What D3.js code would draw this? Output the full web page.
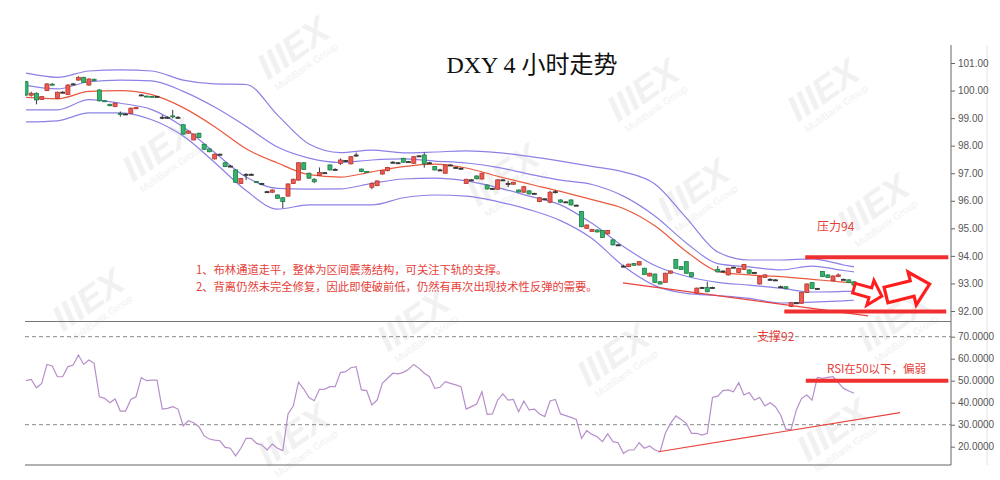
<!DOCTYPE html>
<html><head><meta charset="utf-8">
<script src="https://cdn.jsdelivr.net/npm/d3@7"></script>
<style>body{margin:0;background:#fff;} svg{display:block;}</style>
</head><body><svg id="c" width="1000" height="480"></svg>
<script>
// ---------------- data ----------------
const title = "DXY 4 小时走势";
const priceTicks = [92,93,94,95,96,97,98,99,100,101];
const rsiTicks = [20,30,40,50,60,70];
const rsiGuides = [70,30];

const open = [100.32,99.83,99.90,99.68,100.00,100.23,99.72,99.94,99.86,100.24,
100.38,100.48,100.20,100.41,100.02,99.63,99.50,99.42,99.17,99.15,
99.17,99.34,99.84,99.80,99.79,99.79,99.03,99.03,99.08,99.03,
98.76,98.45,98.21,98.45,98.05,97.88,97.52,97.69,97.38,97.26,
97.12,96.63,96.96,96.96,96.70,96.63,96.33,96.31,96.21,96.11,
96.17,96.63,96.75,97.38,97.00,96.78,96.92,97.02,97.30,97.14,
97.36,97.46,97.34,97.66,97.15,97.06,96.49,96.55,96.97,97.09,
97.40,97.38,97.54,97.42,97.36,97.63,97.66,97.38,97.24,97.12,
97.00,97.30,97.21,97.18,96.63,96.76,96.90,96.79,96.57,96.45,
96.42,96.76,96.63,96.60,96.39,96.31,96.36,96.27,95.97,96.07,
95.95,96.33,96.03,95.96,96.03,95.84,95.61,95.00,94.89,94.94,
94.92,94.80,94.58,94.40,93.63,93.61,93.72,93.67,93.55,93.27,
93.34,93.06,93.04,93.37,93.87,93.61,93.79,93.39,92.64,92.85,
92.85,92.85,93.51,93.45,93.31,93.59,93.40,93.51,93.49,93.40,
92.98,93.22,93.15,93.13,92.88,92.88,92.16,92.30,92.28,92.67,
93.03,92.82,93.43,93.31,93.10,93.25,93.15,93.13,93.06];
const high = [100.35,99.96,99.93,99.80,100.27,100.27,99.96,99.98,100.23,100.28,
100.52,100.50,100.44,100.43,100.05,99.64,99.52,99.56,99.24,99.18,
99.38,99.41,99.87,99.81,99.80,99.80,99.11,99.06,99.30,99.07,
98.78,98.55,98.44,98.47,98.07,97.90,97.71,97.71,97.40,97.30,
97.14,96.83,97.00,96.99,96.71,96.65,96.36,96.41,96.23,96.13,
96.63,96.80,97.40,97.40,97.02,96.82,97.21,97.04,97.32,97.18,
97.54,97.48,97.62,97.75,97.17,97.07,96.67,96.74,97.11,97.23,
97.44,97.40,97.56,97.44,97.62,97.65,97.75,97.41,97.26,97.16,
97.32,97.32,97.23,97.20,96.80,96.78,96.92,97.02,96.59,96.47,
96.78,96.78,96.73,96.69,96.41,96.53,96.38,96.29,96.13,96.09,
96.36,96.39,96.05,95.98,96.05,95.86,95.63,95.14,94.98,94.96,
94.94,94.94,94.60,94.43,93.68,93.72,93.74,93.81,93.57,93.39,
93.36,93.08,93.39,93.47,93.89,93.63,93.81,93.41,92.85,92.88,
93.06,92.88,93.63,93.47,93.57,93.61,93.57,93.71,93.51,93.42,
93.27,93.33,93.19,93.15,92.92,92.90,92.32,92.32,92.69,93.00,
93.05,92.84,93.45,93.33,93.29,93.36,93.17,93.15,93.08];
const low = [99.80,99.78,99.50,99.66,99.98,100.19,99.70,99.91,99.84,100.21,
100.36,100.28,100.18,100.34,99.60,99.60,99.43,99.40,99.05,99.12,
99.15,99.32,99.81,99.76,99.77,99.78,98.96,98.98,98.99,98.99,
98.40,98.43,98.19,98.28,97.85,97.76,97.50,97.67,97.22,97.22,
96.65,96.61,96.75,96.93,96.66,96.61,96.30,96.29,96.07,95.73,
96.15,96.61,96.73,97.12,96.80,96.64,96.90,97.00,97.10,97.10,
97.30,97.44,97.32,97.60,97.04,97.03,96.42,96.53,96.95,97.07,
97.36,97.36,97.38,97.40,97.34,97.61,97.20,97.35,97.10,97.08,
96.98,97.28,97.19,97.16,96.61,96.74,96.78,96.77,96.41,96.43,
96.40,96.74,96.49,96.58,96.30,96.29,96.23,96.25,95.95,96.05,
95.91,96.27,95.93,95.94,95.83,95.82,95.04,94.98,94.87,94.85,
94.65,94.78,94.38,94.37,93.58,93.59,93.64,93.65,93.31,93.25,
93.02,92.96,93.02,93.35,93.53,93.49,93.35,93.23,92.62,92.82,
92.68,92.82,93.40,93.43,93.29,93.57,93.38,93.49,93.35,93.38,
92.96,93.20,93.11,93.11,92.84,92.79,92.14,92.28,92.26,92.65,
92.80,92.80,93.23,93.20,93.08,93.23,93.13,93.02,92.92];
const close = [99.84,99.90,99.66,99.78,100.24,100.22,99.94,99.94,100.20,100.24,
100.48,100.30,100.42,100.36,99.63,99.61,99.45,99.54,99.16,99.15,
99.36,99.39,99.84,99.77,99.78,99.79,99.03,99.03,99.07,99.03,
98.42,98.53,98.42,98.30,97.87,97.78,97.69,97.69,97.24,97.26,
96.67,96.81,96.96,96.96,96.68,96.63,96.33,96.39,96.09,95.97,
96.61,96.78,97.38,97.14,96.82,96.69,97.03,97.02,97.12,97.14,
97.48,97.46,97.60,97.66,97.06,97.05,96.63,96.72,97.09,97.21,
97.40,97.38,97.40,97.42,97.60,97.63,97.34,97.38,97.12,97.12,
97.30,97.30,97.21,97.18,96.78,96.76,96.80,97.00,96.43,96.45,
96.76,96.76,96.63,96.67,96.32,96.51,96.25,96.27,96.11,96.07,
96.31,96.33,95.95,95.96,95.85,95.84,95.06,95.12,94.96,94.87,
94.67,94.92,94.40,94.40,93.63,93.70,93.66,93.79,93.33,93.37,
93.04,92.98,93.37,93.45,93.55,93.51,93.37,93.25,92.83,92.85,
92.70,92.85,93.42,93.45,93.55,93.59,93.55,93.69,93.37,93.40,
93.25,93.31,93.15,93.13,92.88,92.81,92.30,92.30,92.67,92.98,
92.82,92.82,93.25,93.22,93.27,93.31,93.15,93.04,92.94];

// channel lines, read at these candle indices
const bandIdx = [0,6,12,18,24,30,36,42,48,54,60,66,72,78,84,90,96,102,108,114,120,126,132,138,144,150,156,158];
const bandUpper2 = [100.63,100.48,100.71,100.75,100.71,100.38,100.24,100.22,99.11,98.06,97.75,97.84,97.74,97.77,97.81,97.75,97.61,97.44,97.25,97.05,96.61,95.38,94.14,93.85,93.85,93.89,93.67,93.60];
const bandUpper1 = [100.19,100.06,100.32,100.38,100.35,99.97,99.40,98.70,97.95,97.55,97.39,97.48,97.52,97.44,97.37,97.21,96.97,96.75,96.59,96.17,95.45,94.47,93.72,93.60,93.49,93.63,93.47,93.42];
const bandMid    = [99.75,99.70,99.97,100.00,99.85,99.38,98.69,97.89,97.37,96.95,96.86,97.05,97.24,97.33,97.19,96.89,96.61,96.34,96.04,95.72,95.09,94.16,93.44,93.31,93.25,93.15,93.05,93.02];
const bandLower1 = [99.30,99.30,99.67,99.54,99.31,98.68,97.75,96.86,96.45,96.42,96.43,96.63,96.79,96.82,96.72,96.48,96.17,95.85,95.18,94.34,93.65,93.26,93.04,92.94,92.83,92.69,92.71,92.72];
const bandLower2 = [98.86,98.90,99.19,99.19,98.94,98.35,97.39,96.37,95.70,95.85,95.85,95.85,96.11,96.21,96.17,95.97,95.68,95.28,94.63,93.63,92.92,92.64,92.56,92.46,92.29,92.32,92.37,92.39];

const rsi = [50.0,50.6,46.8,48.8,57.4,56.7,51.8,51.8,56.4,57.1,61.7,57.4,59.4,57.9,42.7,42.0,40.0,41.7,36.2,36.2,
41.5,42.7,51.4,50.0,50.3,50.3,37.1,37.4,38.2,37.1,29.5,31.8,30.9,29.1,24.9,23.5,23.0,22.7,19.7,19.3,
15.8,19.3,23.8,23.8,21.5,20.8,18.5,21.2,19.3,18.2,34.9,38.5,49.3,46.2,42.3,40.9,46.1,46.2,47.3,47.3,
53.7,54.1,55.9,56.4,45.8,45.5,39.0,41.2,48.8,51.1,53.4,53.1,53.8,55.2,57.4,55.6,53.4,51.8,46.5,47.0,
49.6,48.8,48.1,47.3,37.1,38.2,39.4,45.0,34.7,34.9,41.2,44.0,41.2,41.5,35.9,40.8,36.7,37.1,34.9,33.7,
40.8,41.5,34.9,34.1,33.3,32.4,23.8,27.3,25.6,24.5,22.3,25.8,22.3,21.8,17.0,18.5,18.5,21.8,19.3,20.3,
18.5,17.7,26.1,30.6,34.0,32.4,30.6,26.1,26.1,25.3,26.1,42.4,43.0,45.5,45.8,45.0,49.1,43.5,44.6,41.2,
42.4,38.5,40.0,38.2,34.4,27.9,27.9,36.7,42.0,43.5,41.2,51.5,51.1,51.5,51.8,49.1,46.5,45.3,44.3];

// annotation levels
const resistance = 94, support = 92, rsiLevel = 50;
const priceTrend = [[113.9, 93.02],[160.7, 91.82]];
const rsiTrend = [[120.7, 17.7],[166.8, 35.5]];
const notes = ["1、布林通道走平，整体为区间震荡结构，可关注下轨的支撑。",
               "2、背离仍然未完全修复，因此即使破前低，仍然有再次出现技术性反弹的需要。"];

// ---------------- drawing ----------------
(function(){
const svg = d3.select('#c');
const plotL = 25, plotR = 951, topY = 45, divY = 321.5, bottomY = 465;
const x = d3.scaleLinear().domain([0,158]).range([26,854]);
const yP = d3.scaleLinear().domain([92,101]).range([311,63]);
const yR = d3.scaleLinear().domain([20,70]).range([446.7,336.7]);

const defs = svg.append('defs');
defs.append('clipPath').attr('id','cm').append('rect').attr('x',plotL).attr('y',topY).attr('width',plotR-plotL).attr('height',divY-topY);
defs.append('clipPath').attr('id','cr').append('rect').attr('x',plotL).attr('y',divY).attr('width',plotR-plotL).attr('height',bottomY-divY);

// watermarks
const wm = [[300,58],[650,100],[830,100],[165,160],[510,185],[880,215],[700,200],[95,310],[420,330],[620,365],[300,445],[840,440],[900,330]];
const wg = svg.append('g').attr('fill','#f1f1f1');
wm.forEach(([cx,cy])=>{
  const g = wg.append('g').attr('transform',`translate(${cx},${cy}) rotate(-35)`);
  g.append('text').attr('text-anchor','middle').attr('font-family','Liberation Sans, Arial').attr('font-weight','bold').attr('font-style','italic').attr('font-size',36).text('IIIEX');
  g.append('text').attr('text-anchor','middle').attr('y',14).attr('font-family','Liberation Sans, Arial').attr('font-size',10).text('MultiBank Group');
});

// frame lines
svg.append('line').attr('x1',plotR).attr('x2',plotR).attr('y1',topY).attr('y2',bottomY).attr('stroke','#666');
svg.append('line').attr('x1',987).attr('x2',987).attr('y1',topY).attr('y2',bottomY).attr('stroke','#e2e2e2');
svg.append('line').attr('x1',plotL).attr('x2',plotR).attr('y1',divY).attr('y2',divY).attr('stroke','#777').attr('stroke-width',1.2);
svg.append('line').attr('x1',plotL).attr('x2',plotR).attr('y1',bottomY).attr('y2',bottomY).attr('stroke','#666').attr('stroke-width',1.2);

// RSI guide dashed lines
svg.append('g').selectAll('line').data(rsiGuides).join('line')
  .attr('x1',plotL).attr('x2',plotR).attr('y1',d=>yR(d)).attr('y2',d=>yR(d))
  .attr('stroke','#888').attr('stroke-dasharray','4,3');

// axes
const fmtP = d3.format('.2f'), fmtR = d3.format('.4f');
const axP = svg.append('g').attr('transform',`translate(${plotR},0)`)
  .call(d3.axisRight(yP).tickValues(priceTicks).tickFormat(fmtP).tickSize(4).tickPadding(3));
const axR = svg.append('g').attr('transform',`translate(${plotR},0)`)
  .call(d3.axisRight(yR).tickValues(rsiTicks).tickFormat(fmtR).tickSize(4).tickPadding(3));
[axP,axR].forEach(a=>{
  a.select('.domain').remove();
  a.selectAll('line').attr('stroke','#666');
  a.selectAll('text').attr('fill','#555').attr('font-family','Liberation Sans, Arial').attr('font-size',10);
});

// main panel
const main = svg.append('g').attr('clip-path','url(#cm)');
const bandLine = d3.line().x(d=>x(d[0])).y(d=>yP(d[1])).curve(d3.curveMonotoneX);
const bands = [[bandUpper2,'#8c82e6'],[bandUpper1,'#8c82e6'],[bandLower1,'#8c82e6'],[bandLower2,'#8c82e6'],[bandMid,'#ea5a3e']];
bands.forEach(([arr,c])=>{
  main.append('path').datum(bandIdx.map((i,k)=>[i,arr[k]])).attr('d',bandLine)
    .attr('fill','none').attr('stroke',c).attr('stroke-width',1.2);
});

const candles = open.map((o,i)=>({i,o,h:high[i],l:low[i],c:close[i]}));
const cg = main.append('g');
const bw = 4;
const col = d => d.c>d.o ? ['#ec5a50','#b8372e'] : d.c<d.o ? ['#33b36b','#1d7d45'] : ['#333','#333'];
cg.selectAll('line').data(candles).join('line')
  .attr('x1',d=>x(d.i)).attr('x2',d=>x(d.i))
  .attr('y1',d=>yP(d.h)).attr('y2',d=>yP(d.l))
  .attr('stroke','#3a3a3a').attr('stroke-width',1);
cg.selectAll('rect').data(candles).join('rect')
  .attr('x',d=>x(d.i)-bw/2).attr('width',bw)
  .attr('y',d=>yP(Math.max(d.o,d.c)))
  .attr('height',d=>Math.max(1,Math.abs(yP(d.o)-yP(d.c))))
  .attr('fill',d=>col(d)[0]).attr('stroke',d=>col(d)[1]).attr('stroke-width',0.8);

// price trend line & levels
const tl = d3.line().x(d=>x(d[0])).y(d=>yP(d[1]));
main.append('path').datum(priceTrend).attr('d',tl).attr('stroke','#e8423c').attr('stroke-width',1.2).attr('fill','none');
svg.append('line').attr('x1',x(148.7)).attr('x2',x(176)).attr('y1',yP(resistance)+1.3).attr('y2',yP(resistance)+1.3)
  .attr('stroke','#f03030').attr('stroke-width',4);
svg.append('line').attr('x1',x(144.7)).attr('x2',x(175.6)).attr('y1',yP(support)+0.5).attr('y2',yP(support)+0.5)
  .attr('stroke','#f03030').attr('stroke-width',4);

// block arrows
function blockArrow(cx,cy,ang,sL,hL,sh,hh,sw){
  const pts=[[0,-sh],[sL,-sh],[sL,-hh],[sL+hL,0],[sL,hh],[sL,sh],[0,sh]];
  svg.append('path').attr('d','M'+pts.map(p=>p.join(',')).join('L')+'Z')
    .attr('transform',`translate(${cx},${cy}) rotate(${ang})`)
    .attr('fill','#fff').attr('stroke','#ff1e1e').attr('stroke-width',sw).attr('stroke-linejoin','miter');
}
blockArrow(x(158.0), yP(92.83), 16, 17, 12, 5, 13, 3);
blockArrow(x(164.1), yP(92.58), -14, 27, 18, 8, 17, 3.2);

// RSI panel
const rp = svg.append('g').attr('clip-path','url(#cr)');
rp.append('path').datum(rsi).attr('d',d3.line().x((d,i)=>x(i)).y(d=>yR(d)))
  .attr('fill','none').attr('stroke','#b68fca').attr('stroke-width',1.2);
rp.append('path').datum(rsiTrend).attr('d',d3.line().x(d=>x(d[0])).y(d=>yR(d[1])))
  .attr('fill','none').attr('stroke','#e8423c').attr('stroke-width',1.2);
svg.append('line').attr('x1',x(148.8)).attr('x2',x(176)).attr('y1',yR(rsiLevel)).attr('y2',yR(rsiLevel))
  .attr('stroke','#f03030').attr('stroke-width',4);

// texts
const cjk = '"Noto Sans CJK SC", "Noto Sans", sans-serif';
svg.append('text').attr('x',532).attr('y',73).attr('text-anchor','middle')
  .attr('font-family','"Liberation Serif", "Noto Sans CJK SC", serif').attr('font-size',24).attr('fill','#111').text(title);
svg.selectAll('text.note').data(notes).join('text').attr('class','note')
  .attr('x',196).attr('y',(d,i)=>274+i*16.5).attr('font-family',cjk).attr('font-size',11.3).attr('fill','#e5413a').text(d=>d);
svg.append('text').attr('x',817).attr('y',231).attr('font-family',cjk).attr('font-size',12).attr('fill','#e5413a').text('压力'+resistance);
svg.append('text').attr('x',757).attr('y',341).attr('font-family',cjk).attr('font-size',12).attr('fill','#e5413a').text('支撑'+support);
svg.append('text').attr('x',827).attr('y',373).attr('font-family',cjk).attr('font-size',11.5).attr('fill','#e5413a').text('RSI在'+rsiLevel+'以下，偏弱');
})();
</script></body></html>
